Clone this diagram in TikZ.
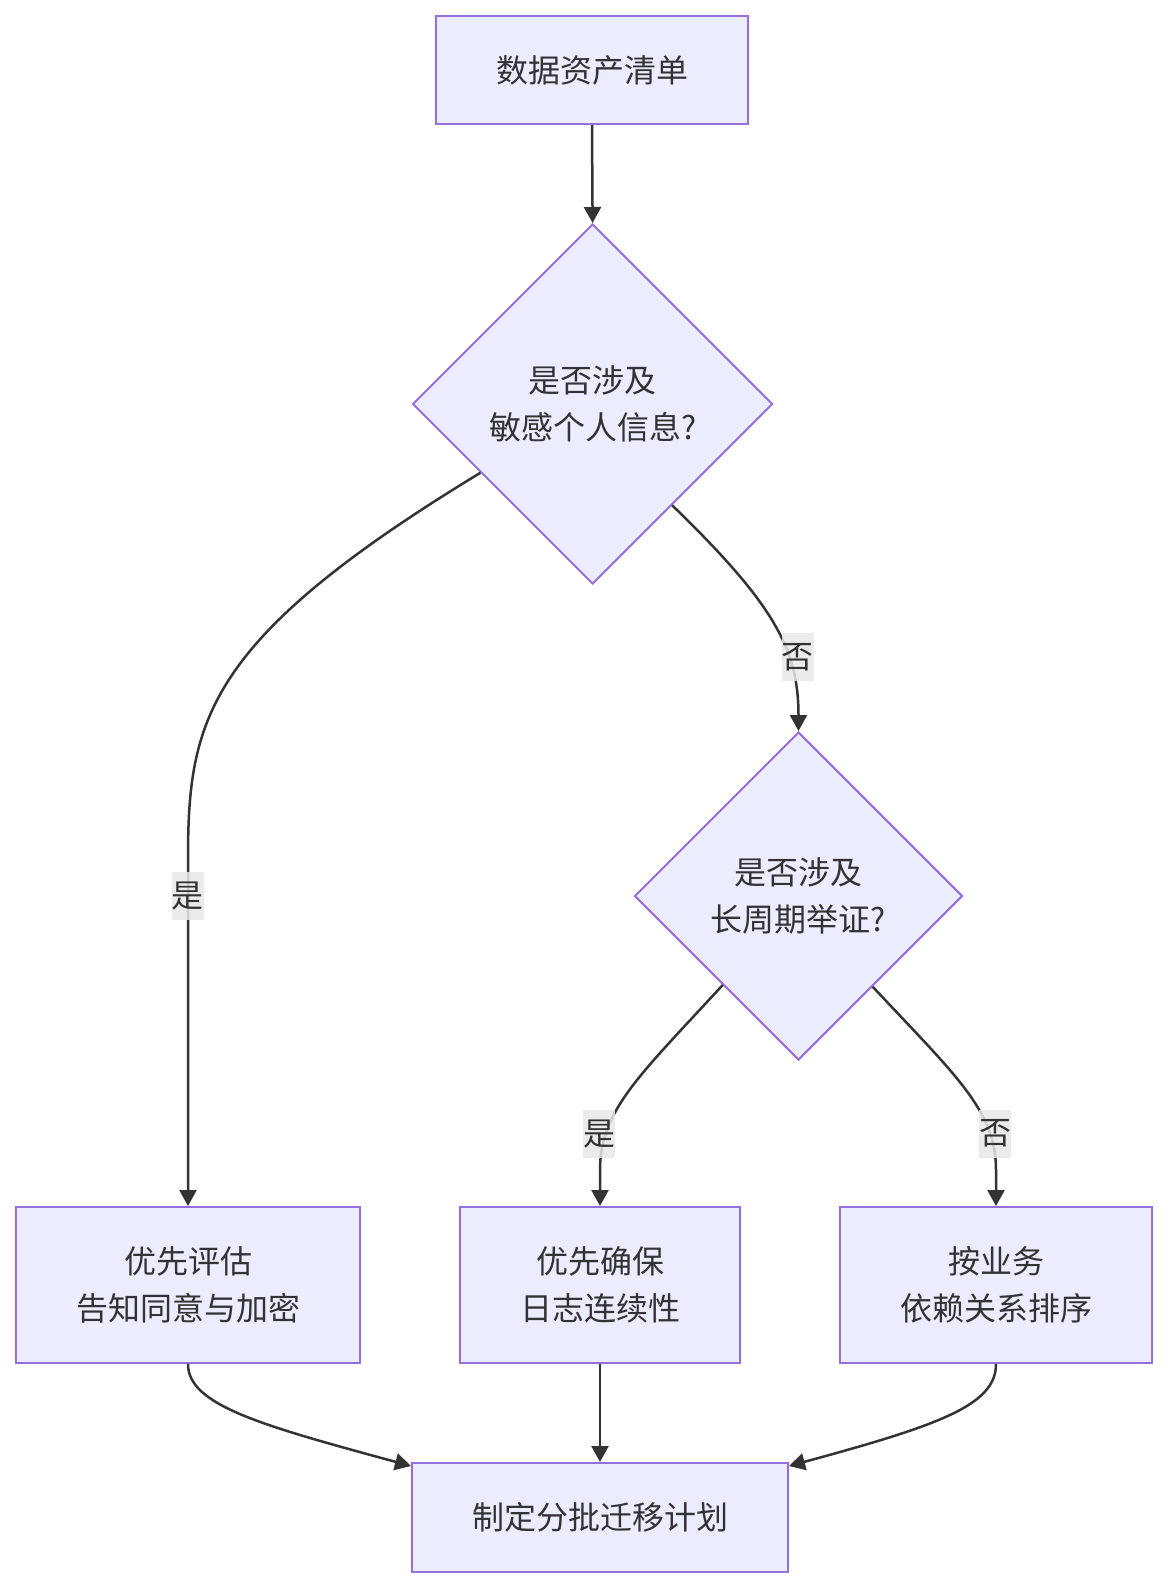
\documentclass[tikz,border=0pt]{standalone}
\usepackage{fontspec}
\setmainfont{Noto Sans CJK SC}
\usetikzlibrary{shapes.geometric,arrows.meta,calc}
\definecolor{nodefill}{HTML}{ECECFF}
\definecolor{nodeline}{HTML}{9370DB}
\definecolor{edgecol}{HTML}{333333}
\definecolor{labelbg}{HTML}{E8E8E8}
\begin{document}
\begin{tikzpicture}[x=1pt,y=-1pt,
  txt/.style={text=edgecol, font=\fontsize{32}{47}\selectfont, align=center},
  box/.style={txt, draw=nodeline, fill=nodefill, line width=2pt, rectangle, inner sep=0pt},
  dia/.style={txt, draw=nodeline, fill=nodefill, line width=2pt, diamond, aspect=1, inner sep=0pt},
  edge/.style={draw=edgecol, line width=2.5pt, -{Triangle[length=16pt,width=17pt]}},
  lbl/.style={txt, fill=labelbg, fill opacity=0.85, text opacity=1, inner sep=0pt, minimum width=32pt, minimum height=48pt}]
\useasboundingbox (0,0) rectangle (1168,1587);
\fill[white] (0,0) rectangle (1168,1587);

\node[box, minimum width=312pt, minimum height=108pt] (top) at (592,70) {数据资产清单};
\node[dia, minimum width=360pt, minimum height=360pt] (d1) at (592.6,404) {是否涉及\\敏感个人信息?};
\node[dia, minimum width=328pt, minimum height=328pt] (d2) at (798.5,896) {是否涉及\\长周期举证?};
\node[box, minimum width=344pt, minimum height=156pt] (a) at (188,1285) {优先评估\\告知同意与加密};
\node[box, minimum width=280.5pt, minimum height=156pt] (b) at (600,1285) {优先确保\\日志连续性};
\node[box, minimum width=312pt, minimum height=156pt] (c) at (996,1285) {按业务\\依赖关系排序};
\node[box, minimum width=376pt, minimum height=109pt] (f) at (600,1517.5) {制定分批迁移计划};

\draw[edge] (top.south) -- (d1.north);
\draw[edge] ($(d1.west)!0.38!(d1.south)$) .. controls (205,640) and (188,720) .. (188,860) -- (a.north);
\draw[edge] ($(d1.south)!0.44!(d1.east)$) .. controls (775,605) and (798.5,650) .. (d2.north);
\draw[edge] ($(d2.west)!0.54!(d2.south)$) .. controls (640,1075) and (600,1110) .. (600,1170) -- (b.north);
\draw[edge] ($(d2.south)!0.45!(d2.east)$) .. controls (955,1075) and (996,1110) .. (996,1170) -- (c.north);
\draw[edge] (a.south) .. controls (188,1405) and (260,1425) .. ($(f.north west)+(0,4)$);
\draw[edge] (b.south) -- (f.north);
\draw[edge] (c.south) .. controls (996,1405) and (940,1425) .. ($(f.north east)+(0,4)$);

\node[lbl] (l1) at (187.5,896) {是};
\node[lbl] (l2) at (797.5,657) {否};
\node[lbl] (l3) at (599,1133.5) {是};
\node[lbl] (l4) at (995,1133.5) {否};
\end{tikzpicture}
\end{document}
